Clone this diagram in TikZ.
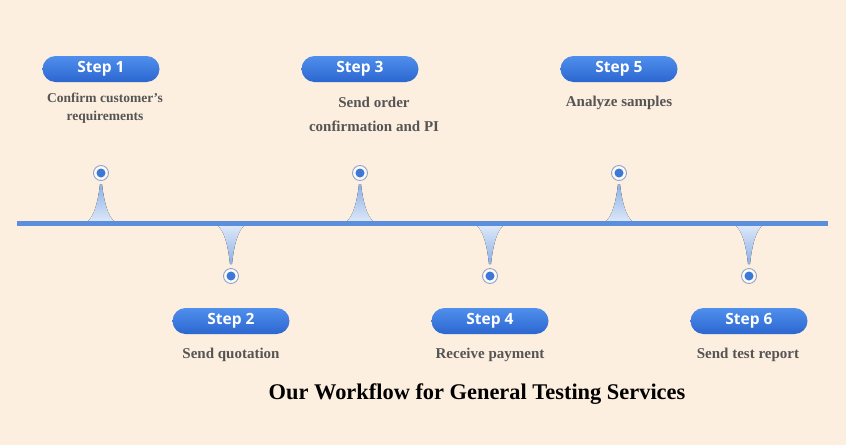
\documentclass[tikz,border=0pt]{standalone}
\usepackage{fontspec}
\setmainfont{Liberation Serif}
\newfontfamily\pillfont{Open Sans}
\usetikzlibrary{positioning,calc}
\definecolor{bgpeach}{HTML}{FDEFDF}
\definecolor{lineblue}{HTML}{5B8EDC}
\definecolor{pilltop}{HTML}{4F8FEC}
\definecolor{pillbot}{HTML}{2C66D0}
\definecolor{dotblue}{HTML}{3C78D8}
\definecolor{ringgray}{HTML}{8FA3CC}
\definecolor{descgray}{HTML}{555555}

\begin{document}
\begin{tikzpicture}[
		x=1pt, y=-1pt,
		pill/.style={rounded corners=13pt, minimum width=117pt, minimum height=26pt,
				top color=pilltop, bottom color=pillbot, draw=none,
				text=white, font=\pillfont\bfseries\fontsize{15.5}{18}\selectfont},
		desc/.style={align=center, text=descgray,
				font=\bfseries\fontsize{15}{18}\selectfont},
		ring/.style={circle, draw=ringgray, line width=0.9pt, fill=white!60!bgpeach,
				minimum size=15pt, inner sep=0pt},
		dot/.style={circle, fill=dotblue, minimum size=9pt, inner sep=0pt},
		spikeup/.style={top color=lineblue!70, bottom color=lineblue!20, draw=none},
		spikedown/.style={top color=lineblue!20, bottom color=lineblue!70, draw=none}
		]
		% background
		\fill[bgpeach] (0,0) rectangle (846,445);
		\useasboundingbox (0,0) rectangle (846,445);
		% timeline
		\coordinate (tl-start) at (17,223.5);
		\coordinate (tl-end) at (828,223.5);
		% spikes (upward for odd steps, downward for even steps)
		\foreach \sx in {101,360,619}
		\fill[spikeup] (\sx-14,222) .. controls (\sx-7,217) and (\sx-3,202) .. (\sx-1,184)
		-- (\sx+1,184) .. controls (\sx+3,202) and (\sx+7,217) .. (\sx+14,222) -- cycle;
		\foreach \sx in {231,490,749}
		\fill[spikedown] (\sx-14,225) .. controls (\sx-7,230) and (\sx-3,245) .. (\sx-1,264)
		-- (\sx+1,264) .. controls (\sx+3,245) and (\sx+7,230) .. (\sx+14,225) -- cycle;
		\draw[lineblue, line width=5pt] (tl-start) -- (tl-end);
		% markers
		\node[ring] (m1) at (101,173) {};
		\node[ring] (m2) at (231,276) {};
		\node[ring] (m3) at (360,173) {};
		\node[ring] (m4) at (490,276) {};
		\node[ring] (m5) at (619,173) {};
		\node[ring] (m6) at (749,276) {};
		\node[dot] at (m1) {};
		\node[dot] at (m2) {};
		\node[dot] at (m3) {};
		\node[dot] at (m4) {};
		\node[dot] at (m5) {};
		\node[dot] at (m6) {};
		% step labels
		\node[pill] (s1) at (101,69) {Step 1};
		\node[pill] (s2) at (231,321) {Step 2};
		\node[pill] (s3) at (360,69) {Step 3};
		\node[pill] (s4) at (490,321) {Step 4};
		\node[pill] (s5) at (619,69) {Step 5};
		\node[pill] (s6) at (749,321) {Step 6};
		% descriptions
		\node[desc, font=\bfseries\fontsize{13.5}{18}\selectfont] (d1) at (105,108)
		{Confirm customer's\\requirements};
		\node[desc, font=\bfseries\fontsize{15}{24}\selectfont] (d3) at (374,114)
		{Send order\\confirmation and PI};
		\node[desc] (d5) at (619,103) {Analyze samples};
		\node[desc] (d2) at (231,355) {Send quotation};
		\node[desc] (d4) at (490,355) {Receive payment};
		\node[desc] (d6) at (748,355) {Send test report};
		% title
		\node[font=\bfseries\fontsize{22.4}{26}\selectfont] (title) at (477,394)
		{Our Workflow for General Testing Services};
	\end{tikzpicture}
\end{document}
